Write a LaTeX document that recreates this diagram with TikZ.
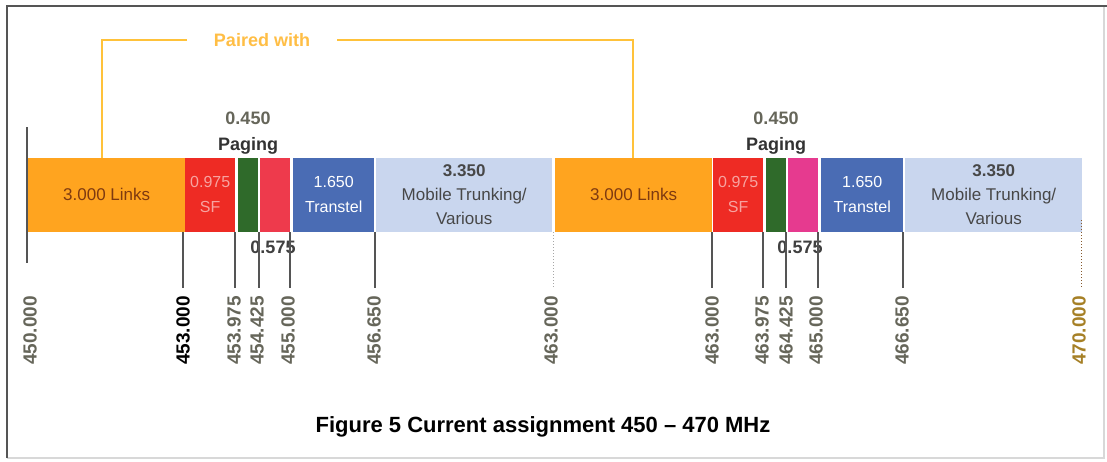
\documentclass[tikz,border=0pt]{standalone}
\usepackage{fontspec}
\setmainfont{Liberation Sans}
\definecolor{linkorange}{HTML}{FFA41F}
\definecolor{linktext}{HTML}{7E3A10}
\definecolor{sfred}{HTML}{EE2B24}
\definecolor{sftext}{HTML}{F7A3A0}
\definecolor{pgreen}{HTML}{2F6A2A}
\definecolor{crimson}{HTML}{EE3A4C}
\definecolor{hotpink}{HTML}{E63A8F}
\definecolor{tblue}{HTML}{4A6CB4}
\definecolor{mtblue}{HTML}{C9D6EE}
\definecolor{mttext}{HTML}{474747}
\definecolor{ticklab}{HTML}{66665A}
\definecolor{tickline}{HTML}{555555}
\definecolor{pairline}{HTML}{FFC23A}
\definecolor{pairtext}{HTML}{FFBE45}
\definecolor{framedark}{HTML}{555555}
\definecolor{framelight}{HTML}{D8D8D8}
\newcommand{\fs}[2]{\fontsize{#1}{#2}\selectfont}
\begin{document}
\begin{tikzpicture}[x=1pt,y=-1pt,
  seg/.style={draw=none,inner sep=0pt,minimum height=74pt,anchor=south west,align=center},
  ticklabel/.style={rotate=90,anchor=east,inner sep=0pt,font=\fs{19}{19}\bfseries,text=ticklab},
  tickmark/.style={draw=tickline,line width=1.2pt,shorten >=8pt},
  faintmark/.style={draw=#1,line width=1pt,dotted,shorten >=8pt},
  toplabel/.style={inner sep=0pt,font=\fs{18}{18}\bfseries,text=#1},
  pairlink/.style={draw=pairline,line width=2pt}]
\useasboundingbox (0,0) rectangle (1107,461);
\fill[white] (0,0) rectangle (1107,461);

% frame round the figure
\draw[framelight,line width=1.5pt] (7,458) -- (1104,458) -- (1104,6);
\draw[framedark,line width=2pt] (7,458) -- (7,6) -- (1107,6);

% lower band 450-456.65 and the rest
\node[seg,fill=linkorange,minimum width=157pt,text=linktext,font=\fs{17}{17}] (links1) at (28,232) {3.000 Links};
\node[seg,fill=sfred,minimum width=50pt,text=sftext,font=\fs{16}{25}] (sf1) at (185,232) {0.975\\SF};
\node[seg,fill=pgreen,minimum width=20pt] (pg1) at (238,232) {};
\node[seg,fill=crimson,minimum width=30pt] (px1) at (260,232) {};
\node[seg,fill=tblue,minimum width=81pt,text=white,font=\fs{16}{25}] (tr1) at (293,232) {1.650\\Transtel};
\node[seg,fill=mtblue,minimum width=176pt,text=mttext,font=\fs{17}{24}] (mt1) at (376,232) {\textbf{3.350}\\Mobile Trunking/\\Various};

% upper band 460-470
\node[seg,fill=linkorange,minimum width=157pt,text=linktext,font=\fs{17}{17}] (links2) at (555,232) {3.000 Links};
\node[seg,fill=sfred,minimum width=50pt,text=sftext,font=\fs{16}{25}] (sf2) at (713,232) {0.975\\SF};
\node[seg,fill=pgreen,minimum width=20pt] (pg2) at (766,232) {};
\node[seg,fill=hotpink,minimum width=30pt] (px2) at (788,232) {};
\node[seg,fill=tblue,minimum width=82pt,text=white,font=\fs{16}{25}] (tr2) at (821,232) {1.650\\Transtel};
\node[seg,fill=mtblue,minimum width=177pt,text=mttext,font=\fs{17}{24}] (mt2) at (905,232) {\textbf{3.350}\\Mobile Trunking/\\Various};

% labels above the bands
\node[toplabel=ticklab] (w1) at (248,118) {0.450};
\node[toplabel=black!80] (pgl1) at (248,146) {Paging};
\node[toplabel=ticklab] (w2) at (776,118) {0.450};
\node[toplabel=black!80] (pgl2) at (776,146) {Paging};
\node[toplabel=black!75] (n1) at (273,247) {0.575};
\node[toplabel=black!75] (n2) at (800,247) {0.575};

% pairing bracket
\node[inner xsep=27pt,inner ysep=0pt,font=\fs{18}{18}\bfseries,text=pairtext] (paired) at (262,40) {Paired with};
\coordinate (pa) at (102,158);
\coordinate (pb) at (633,158);
\draw[pairlink] (pa) |- (paired.west);
\draw[pairlink] (paired.east) -| (pb);

% start of the band
\coordinate (s0) at (27,127);
\coordinate (s1) at (27,263);
\draw[draw=tickline,line width=1.5pt] (s0) -- (s1);

% frequency marks
\node[ticklabel] (f1) at (30,296) {450.000};
\node[ticklabel,text=black] (f2) at (183,296) {453.000};
\node[ticklabel] (f3) at (234,296) {453.975};
\node[ticklabel] (f4) at (257,296) {454.425};
\node[ticklabel] (f5) at (288,296) {455.000};
\node[ticklabel] (f6) at (374,296) {456.650};
\node[ticklabel] (f7) at (551,296) {463.000};
\node[ticklabel] (f8) at (712,296) {463.000};
\node[ticklabel] (f9) at (762,296) {463.975};
\node[ticklabel] (f10) at (786,296) {464.425};
\node[ticklabel] (f11) at (816,296) {465.000};
\node[ticklabel] (f12) at (902,296) {466.650};
\node[ticklabel,text=brown!60!olive] (f13) at (1079,296) {470.000};

\coordinate (t2) at (183,232);
\coordinate (t3) at (235,232);
\coordinate (t4) at (259,232);
\coordinate (t5) at (290,232);
\coordinate (t6) at (375,232);
\coordinate (t7) at (553,232);
\coordinate (t8) at (712,232);
\coordinate (t9) at (763,232);
\coordinate (t10) at (786,232);
\coordinate (t11) at (818,232);
\coordinate (t12) at (903,232);
\coordinate (t13) at (1081,220);

\foreach \i in {2,3,4,5,6,8,9,10,11,12}
  \draw[tickmark] (t\i) -- (t\i |- f\i.east);
\draw[faintmark=gray!70] (t7) -- (t7 |- f7.east);
\draw[faintmark=brown!70!black] (t13) -- (t13 |- f13.east);

% caption
\node[font=\fs{22}{22}\bfseries] (caption) at (543,427) {Figure 5 Current assignment 450 -- 470 MHz};
\end{tikzpicture}
\end{document}
